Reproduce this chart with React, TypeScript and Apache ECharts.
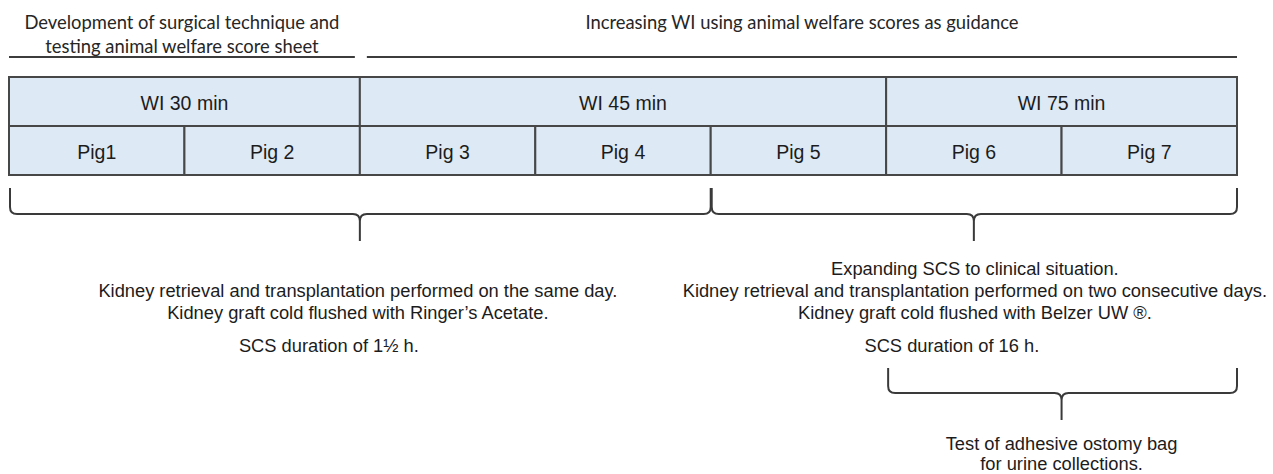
import React, { useEffect, useRef } from "react";
import * as echarts from "echarts";

// ---------- data ----------
const pigs = ["Pig1", "Pig 2", "Pig 3", "Pig 4", "Pig 5", "Pig 6", "Pig 7"];
const wiGroups = ["WI 30 min", "WI 45 min", "WI 75 min"];
const wiGroupSizes = [2, 3, 2];
const phaseTitles = [
  ["Development of surgical technique and", "testing animal welfare score sheet"],
  ["Increasing WI using animal welfare scores as guidance"],
];
const phaseSizes = [2, 5];
// pig numbers covered by each protocol brace
const protocolPigRanges = [
  [1, 4],
  [5, 7],
];
const protocolNotes = [
  [
    "Kidney retrieval and transplantation performed on the same day.",
    "Kidney graft cold flushed with Ringer\u2019s Acetate.",
  ],
  [
    "Expanding SCS to clinical situation.",
    "Kidney retrieval and transplantation performed on two consecutive days.",
    "Kidney graft cold flushed with Belzer UW \u00AE.",
  ],
];
const scsDurations = ["SCS duration of 1\u00BD h.", "SCS duration of 16 h."];
const ostomyPigRange = [6, 7];
const ostomyNote = ["Test of adhesive ostomy bag", "for urine collections."];

// ---------- layout / style ----------
const W = 1273;
const H = 474;
const ARIAL = "'Liberation Sans', Arial, sans-serif";
const CALIBRI = "Lato, 'Open Sans', sans-serif";
const TEXT = "#1c1c1c";
const BOX_FILL = "#dde9f5";
const BOX_STROKE = "#474747";
const BRACE = "#3a3a3a";
const ROW1 = [77, 126];
const ROW2 = [126, 175];
const HEAD_LINE_Y = 57;
const HEAD_TEXT_Y = [22, 46];
const BRACE_A = { top: 188, mid: 214, tip: 241 };
const BRACE_B = { top: 368, mid: 393, tip: 420 };
const NOTE_LAST_Y = 312;
const NOTE_LH = 22;
const SCS_Y = 345;
const SCS_DX = [-31, -22];
const NOTE_DX = [-2, 1];
const OSTOMY_Y = [443, 463];
const BOX_FS = 19.5;
const NOTE_FS = 18.3;
const HEAD_FS = 18.4;

function spansFromSizes(sizes: number[]): number[][] {
  const out: number[][] = [];
  let s = 0;
  sizes.forEach((n) => {
    out.push([s, s + n]);
    s += n;
  });
  return out;
}

function bracePath(x1: number, x2: number, xm: number, lv: { top: number; mid: number; tip: number }) {
  const r = 7;
  const { top, mid, tip } = lv;
  return [
    `M ${x1} ${top}`,
    `L ${x1} ${mid - r}`,
    `Q ${x1} ${mid} ${x1 + r} ${mid}`,
    `L ${xm - r} ${mid}`,
    `Q ${xm} ${mid} ${xm} ${mid + r}`,
    `L ${xm} ${tip}`,
    `M ${xm} ${mid + r}`,
    `Q ${xm} ${mid} ${xm + r} ${mid}`,
    `L ${x2 - r} ${mid}`,
    `Q ${x2} ${mid} ${x2} ${mid - r}`,
    `L ${x2} ${top}`,
  ].join(" ");
}

function txt(text: string, x: number, y: number, font: string, size: number, fill = TEXT) {
  return {
    type: "text",
    x,
    y,
    style: {
      text,
      fill,
      fontFamily: font,
      fontSize: size,
      align: "center",
      verticalAlign: "middle",
    },
  };
}

export default function App() {
  const ref = useRef<HTMLDivElement>(null);

  useEffect(() => {
    if (!ref.current) return;
    const chart = echarts.init(ref.current, undefined, { renderer: "svg" });

    const wiSpans = spansFromSizes(wiGroupSizes);
    const phaseSpans = spansFromSizes(phaseSizes);
    const pigSpans = pigs.map((_, i) => [i, i + 1]);
    const protocolSpans = protocolPigRanges.map(([a, b]) => [a - 1, b]);
    const ostomySpans = [[ostomyPigRange[0] - 1, ostomyPigRange[1]]];
    const nCols = pigs.length;

    const boxRender = (row: number[], labels: string[]) => (params: any, api: any) => {
      const x0 = api.coord([api.value(0), row[0]])[0];
      const x1 = api.coord([api.value(1), row[0]])[0];
      const y0 = api.coord([0, row[0]])[1];
      const y1 = api.coord([0, row[1]])[1];
      return {
        type: "group",
        children: [
          {
            type: "rect",
            shape: { x: x0, y: y0, width: x1 - x0, height: y1 - y0 },
            style: { fill: BOX_FILL, stroke: BOX_STROKE, lineWidth: 2 },
          },
          txt(labels[params.dataIndex], (x0 + x1) / 2, (y0 + y1) / 2 + 1, ARIAL, BOX_FS),
        ],
      };
    };

    const phaseRender = (params: any, api: any) => {
      const s = api.value(0);
      const e = api.value(1);
      const x0 = api.coord([s, 0])[0] + (s > 0 ? 7 : 0);
      const x1 = api.coord([e, 0])[0] - (e < nCols ? 5 : 0);
      const y = api.coord([0, HEAD_LINE_Y])[1];
      const lines = phaseTitles[params.dataIndex];
      return {
        type: "group",
        children: [
          {
            type: "line",
            shape: { x1: x0, y1: y, x2: x1, y2: y },
            style: { stroke: "#3c3c3c", lineWidth: 1.8 },
          },
          ...lines.map((t, i) => txt(t, (x0 + x1) / 2, api.coord([0, HEAD_TEXT_Y[i]])[1], CALIBRI, HEAD_FS, "#262626")),
        ],
      };
    };

    const protocolRender = (params: any, api: any) => {
      const i = params.dataIndex;
      const x0 = api.coord([api.value(0), 0])[0];
      const x1 = api.coord([api.value(1), 0])[0];
      const xm = (x0 + x1) / 2;
      const notes = protocolNotes[i];
      return {
        type: "group",
        children: [
          {
            type: "path",
            shape: { pathData: bracePath(x0 + 1, x1, xm, BRACE_A) },
            style: { fill: "none", stroke: BRACE, lineWidth: 2 },
          },
          ...notes.map((t, k) =>
            txt(t, xm + NOTE_DX[i], NOTE_LAST_Y - (notes.length - 1 - k) * NOTE_LH, ARIAL, NOTE_FS)
          ),
          txt(scsDurations[i], xm + SCS_DX[i], SCS_Y, ARIAL, NOTE_FS),
        ],
      };
    };

    const ostomyRender = (_params: any, api: any) => {
      const x0 = api.coord([api.value(0), 0])[0];
      const x1 = api.coord([api.value(1), 0])[0];
      const xm = (x0 + x1) / 2;
      return {
        type: "group",
        children: [
          {
            type: "path",
            shape: { pathData: bracePath(x0 + 2, x1, xm, BRACE_B) },
            style: { fill: "none", stroke: BRACE, lineWidth: 2 },
          },
          ...ostomyNote.map((t, k) => txt(t, xm, OSTOMY_Y[k], ARIAL, NOTE_FS)),
        ],
      };
    };

    chart.setOption({
      animation: false,
      backgroundColor: "#ffffff",
      grid: { left: 9, right: W - 1237, top: 0, bottom: 0 },
      xAxis: { type: "value", min: 0, max: nCols, show: false },
      yAxis: { type: "value", min: 0, max: H, inverse: true, show: false },
      tooltip: { show: false },
      series: [
        { type: "custom", name: "Phases", data: phaseSpans, renderItem: phaseRender, clip: false, silent: true },
        { type: "custom", name: "WI groups", data: wiSpans, renderItem: boxRender(ROW1, wiGroups), clip: false, silent: true },
        { type: "custom", name: "Pigs", data: pigSpans, renderItem: boxRender(ROW2, pigs), clip: false, silent: true },
        { type: "custom", name: "Protocols", data: protocolSpans, renderItem: protocolRender, clip: false, silent: true },
        { type: "custom", name: "Ostomy", data: ostomySpans, renderItem: ostomyRender, clip: false, silent: true },
      ],
    });

    return () => chart.dispose();
  }, []);

  return (
    <div
      ref={ref}
      style={{ position: "absolute", left: 0, top: 0, width: W, height: H, background: "#fff" }}
    />
  );
}
